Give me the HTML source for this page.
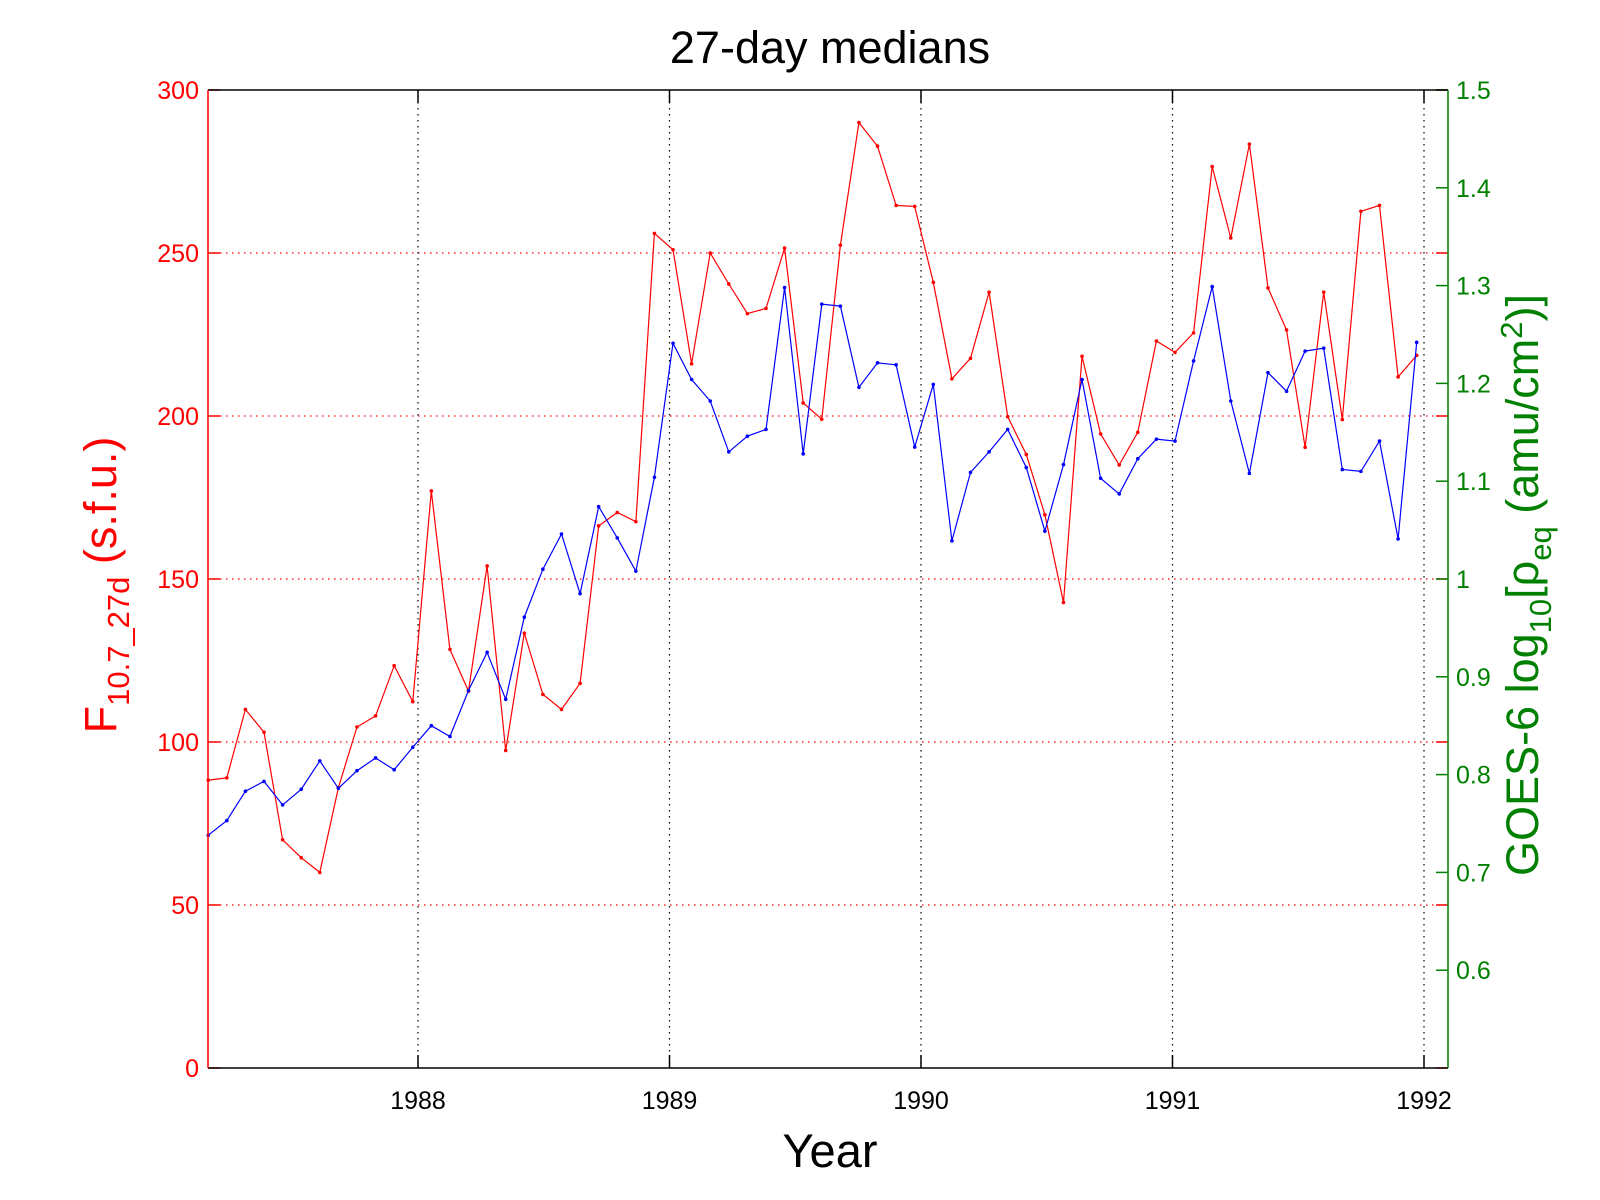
<!DOCTYPE html>
<html><head><meta charset="utf-8"><style>
body{margin:0;background:#fff;}
svg{display:block;font-family:"Liberation Sans",sans-serif;}
</style></head><body>
<svg id="chart" width="1600" height="1200" viewBox="0 0 1600 1200">
<rect width="1600" height="1200" fill="#fff"/>
<g id="grid"></g>
<g id="series"></g>
<g id="axes"></g>
<text x="830" y="63" font-size="45" text-anchor="middle">27-day medians</text>
<text x="830" y="1167" font-size="47" text-anchor="middle">Year</text>
<text transform="translate(116,585) rotate(-90)" font-size="45" fill="#ff0000" text-anchor="middle">F<tspan font-size="31" dy="13">10.7_27d</tspan><tspan dy="-13"> (s.f.u.)</tspan></text>
<text transform="translate(1538,585) rotate(-90)" font-size="45" fill="#008000" text-anchor="middle">GOES-6 log<tspan font-size="31" dy="13">10</tspan><tspan dy="-13">[ρ</tspan><tspan font-size="31" dy="13">eq</tspan><tspan dy="-13"> (amu/cm</tspan><tspan font-size="31" dy="-16">2</tspan><tspan dy="16">)]</tspan></text>
</svg>
<script>
const flux = [88.3,89,110,103,70,64.5,60,86,104.6,108,123.4,112.4,177,128.4,115.6,154,97.4,133.4,114.6,110,118,166.3,170.4,167.6,256,251,216,250,240.5,231.4,233,251.5,204,199,252.4,290,282.8,264.6,264.3,241,211.4,217.7,238,199.8,188.2,169.7,142.8,218.3,194.5,185,195,223,219.5,225.5,276.5,254.6,283.4,239.3,226.4,190.4,238,198.9,262.8,264.6,212,218.6];
const density = [0.738,0.753,0.783,0.793,0.769,0.785,0.814,0.786,0.804,0.817,0.805,0.828,0.850,0.839,0.886,0.925,0.877,0.961,1.010,1.046,0.985,1.074,1.042,1.008,1.104,1.241,1.204,1.182,1.130,1.146,1.153,1.298,1.128,1.281,1.279,1.196,1.221,1.219,1.135,1.199,1.039,1.109,1.130,1.153,1.114,1.049,1.117,1.204,1.103,1.087,1.123,1.143,1.141,1.223,1.299,1.182,1.108,1.211,1.192,1.233,1.236,1.112,1.110,1.141,1.041,1.242];
const startYear = 1987.166;
const stepDays = 27;
const xTicks = [1988,1989,1990,1991,1992];
const leftTicks = [0,50,100,150,200,250,300];
const rightTicks = [0.6,0.7,0.8,0.9,1,1.1,1.2,1.3,1.4,1.5];

const L=208,R=1448,T=90,B=1068;
const NS="http://www.w3.org/2000/svg";
const xS=t=>418+(t-1988)*251.5;
const yL=v=>B-(v/300)*(B-T);
const yR=v=>B-((v-0.5)/1.0)*(B-T);
function mk(parent,tag,attrs,text){const e=document.createElementNS(NS,tag);for(const k in attrs)e.setAttribute(k,attrs[k]);if(text!==undefined)e.textContent=text;document.getElementById(parent).appendChild(e);return e;}

leftTicks.forEach(v=>{
  const y=yL(v);
  if(v>0&&v<300){const g=mk('grid','line',{x1:L,x2:R,y1:y,y2:y,stroke:'#ff0000','stroke-width':1.2,'stroke-dasharray':'1.5,4.5'});
  
  }
  mk('axes','line',{x1:L,x2:L+12,y1:y,y2:y,stroke:'#ff0000','stroke-width':1.5});
  mk('axes','line',{x1:R-12,x2:R,y1:y,y2:y,stroke:'#ff0000','stroke-width':1.5});
  const t=mk('axes','text',{x:L-9,y:y+9,'font-size':25,fill:'#ff0000','text-anchor':'end'},String(v));
  
  
});
xTicks.forEach(v=>{
  const x=xS(v);
  const g=mk('grid','line',{x1:x,x2:x,y1:T,y2:B,stroke:'#000','stroke-width':1.2,'stroke-dasharray':'1.5,4.5'});
  
  
  mk('axes','line',{x1:x,x2:x,y1:B-13,y2:B,stroke:'#000','stroke-width':1.5});
  mk('axes','line',{x1:x,x2:x,y1:T,y2:T+13,stroke:'#000','stroke-width':1.5});
  const t=mk('axes','text',{x:x,y:B+41,'font-size':25,fill:'#000','text-anchor':'middle'},String(v));
  
  
});
rightTicks.forEach(v=>{
  const y=yR(v);
  mk('axes','line',{x1:R-12,x2:R,y1:y,y2:y,stroke:'#008000','stroke-width':1.5});
  const t=mk('axes','text',{x:R+8,y:y+9,'font-size':25,fill:'#008000'},String(v));
  
  
});
mk('axes','line',{x1:L,x2:R,y1:T,y2:T,stroke:'#000','stroke-width':1.5});
mk('axes','line',{x1:L,x2:R,y1:B,y2:B,stroke:'#000','stroke-width':1.5});
mk('axes','line',{x1:L,x2:L,y1:T,y2:B,stroke:'#ff0000','stroke-width':1.5});
mk('axes','line',{x1:R,x2:R,y1:T,y2:B,stroke:'#008000','stroke-width':1.5});

function drawSeries(vals,yf,color,name){
  const pts=vals.map((v,i)=>[xS(startYear+i*stepDays/365.25),yf(v)]);
  const p=mk('series','polyline',{points:pts.map(p=>p[0].toFixed(1)+','+p[1].toFixed(1)).join(' '),fill:'none',stroke:color,'stroke-width':1.2});
  
  
  pts.forEach(q=>{
    const c=mk('series','circle',{cx:q[0],cy:q[1],r:1.8,fill:color});
    
    
  });
}
drawSeries(flux,yL,'#ff0000','flux-series');
drawSeries(density,yR,'#0000ff','density-series');
</script>
</body></html>
